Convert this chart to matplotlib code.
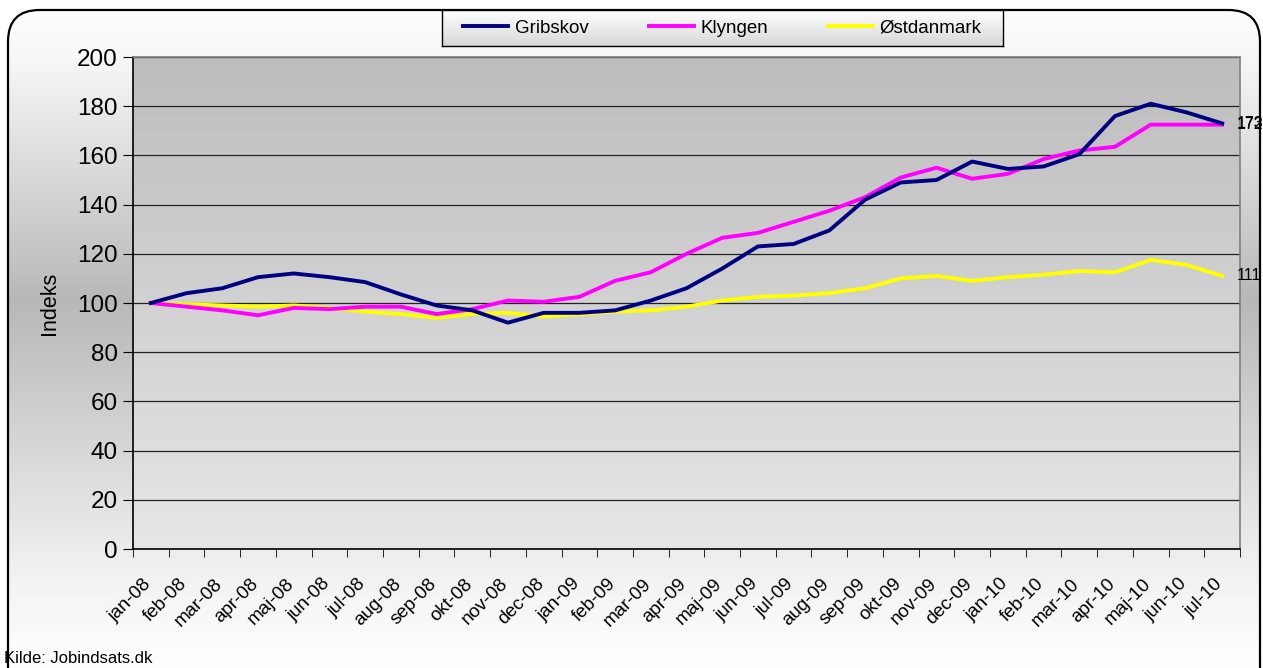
import numpy as np
import matplotlib
matplotlib.use('Agg')
import matplotlib.pyplot as plt
import matplotlib.transforms as mtransforms
from matplotlib.patches import FancyBboxPatch
from matplotlib.colors import LinearSegmentedColormap

plt.rcParams['font.family'] = ['Liberation Sans', 'DejaVu Sans']

months = ['jan-08', 'feb-08', 'mar-08', 'apr-08', 'maj-08', 'jun-08', 'jul-08', 'aug-08',
          'sep-08', 'okt-08', 'nov-08', 'dec-08', 'jan-09', 'feb-09', 'mar-09', 'apr-09',
          'maj-09', 'jun-09', 'jul-09', 'aug-09', 'sep-09', 'okt-09', 'nov-09', 'dec-09',
          'jan-10', 'feb-10', 'mar-10', 'apr-10', 'maj-10', 'jun-10', 'jul-10']

gribskov = [100, 104, 106, 110.5, 112, 110.5, 108.5, 103.5, 99, 97, 92, 96, 96, 97, 101, 106,
            114, 123, 124, 129.5, 142, 149, 150, 157.5, 154.5, 155.5, 160.5, 176, 181, 177.5, 173]
klyngen = [100, 98.5, 97, 95, 98, 97.5, 98.5, 98.5, 95.5, 97.5, 101, 100.5, 102.5, 109, 112.5, 120,
           126.5, 128.5, 133, 137.5, 143, 151, 155, 150.5, 152.5, 158.5, 162, 163.5, 172.5, 172.5, 172.5]
ostdanmark = [100, 99.5, 99, 98.5, 99, 98, 96.5, 95.5, 94, 95.5, 96, 94.5, 95.5, 96.5, 97, 98.5,
              101, 102.5, 103, 104, 106, 110, 111, 109, 110.5, 111.5, 113, 112.5, 117.5, 115.5, 111]

W, H = 1263, 668
fig = plt.figure(figsize=(W / 100, H / 100), dpi=100)
fig.patch.set_facecolor('white')

# background gradient inside a rounded frame
bg = fig.add_axes([0, 0, 1, 1], zorder=-5)
bg.set_axis_off()
bg_cmap = LinearSegmentedColormap.from_list('bg', [(0, '#ffffff'), (0.08, '#f8f8f8'), (0.45, '#b8b8b8'),
                                                   (0.88, '#f4f4f4'), (1, '#ffffff')])
im = bg.imshow(np.linspace(0, 1, 512).reshape(-1, 1), cmap=bg_cmap, extent=[0, 1, 0, 1],
               aspect='auto', transform=bg.transAxes)
frame = FancyBboxPatch((8 / W, -0.05), 1252 / W, 1.05 - 10 / H, transform=fig.transFigure,
                       boxstyle='round,pad=0,rounding_size=0.025', fc='none', ec='black',
                       lw=1.6, mutation_aspect=W / H)
fig.patches.append(frame)
im.set_clip_path(frame)

ax = fig.add_axes([133 / W, 1 - 549 / H, 1107 / W, 492 / H])
ax.set_facecolor('none')
plot_cmap = LinearSegmentedColormap.from_list('g', ['#bdbdbd', '#e6e6e6'])
ax.imshow(np.linspace(0, 1, 256).reshape(-1, 1), cmap=plot_cmap, extent=[0, 1, 0, 1],
          transform=ax.transAxes, aspect='auto', zorder=0)

x = np.arange(len(months))
ax.plot(x, gribskov, color='#000080', lw=2.8, label='Gribskov', zorder=4)
ax.plot(x, klyngen, color='#ff00ff', lw=2.8, label='Klyngen', zorder=3)
ax.plot(x, ostdanmark, color='#ffff00', lw=2.8, label='Østdanmark', zorder=2)

ax.set_xlim(-0.5, len(months) - 0.5)
ax.set_ylim(0, 200)
ax.set_yticks(range(0, 201, 20))
ax.tick_params(axis='y', labelsize=17.5, length=7, pad=4, direction='out')
ax.yaxis.grid(True, color='#222222', lw=0.9)
for gl in ax.get_ygridlines():
    gl.set_zorder(1)

ax.set_xticks(x)
ax.set_xticklabels(months, rotation=45, ha='right', rotation_mode='anchor', fontsize=13.5)
ax.tick_params(axis='x', length=0, pad=19)
ax.set_xticks(np.arange(-0.5, len(months)), minor=True)
ax.tick_params(axis='x', which='minor', length=6)
shift = mtransforms.ScaledTranslation(-6 / 72, 0, fig.dpi_scale_trans)
for lbl in ax.get_xticklabels():
    lbl.set_transform(lbl.get_transform() + shift)

ax.spines['left'].set_color('black')
ax.spines['bottom'].set_color('black')
ax.spines['top'].set_color('#808080')
ax.spines['right'].set_color('#808080')
for s in ax.spines.values():
    s.set_linewidth(1.2)

ax.set_ylabel('Indeks', fontsize=15.5)
ax.yaxis.set_label_coords(-0.066, 0.5)

# value labels at the end of each line
last = len(months) - 1
ax.text(last + 0.42, ostdanmark[-1], '%d' % round(ostdanmark[-1]), va='center', fontsize=11.5, clip_on=False)
ax.text(last + 0.42, klyngen[-1], '%d' % int(klyngen[-1]), va='center', fontsize=11.5, clip_on=False)
ax.text(last + 0.42, gribskov[-1], '%d' % round(gribskov[-1]), va='center', fontsize=11.5, clip_on=False)

# legend box
lax = fig.add_axes([442 / W, 1 - 46 / H, 561 / W, 36 / H], zorder=5)
lax.imshow(np.linspace(0, 1, 64).reshape(-1, 1), cmap=LinearSegmentedColormap.from_list('l', ['#ffffff', '#d8d8d8']),
           extent=[0, 1, 0, 1], aspect='auto')
lax.set_xticks([])
lax.set_yticks([])
for s in lax.spines.values():
    s.set_color('black')
    s.set_linewidth(1)
handles, labels = ax.get_legend_handles_labels()
lax.legend(handles, labels, loc='center', ncol=3, fontsize=13.5, frameon=False,
           handlelength=2.4, handletextpad=0.35, columnspacing=3.2, borderaxespad=0)

fig.text(4 / W, 2 / H, 'Kilde: Jobindsats.dk', fontsize=12, ha='left', va='bottom')

fig.savefig('out.png', dpi=100)
